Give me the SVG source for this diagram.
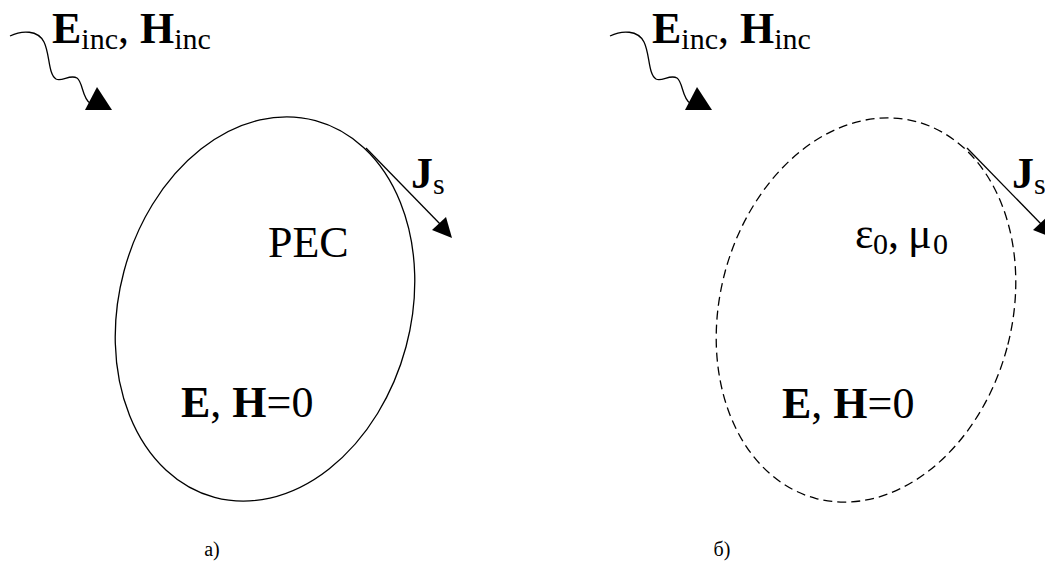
<svg xmlns="http://www.w3.org/2000/svg" width="1045" height="564" viewBox="0 0 1045 564">
<style>
text{font-family:'Liberation Serif','Times New Roman',Times,serif;fill:#000}
.b{font-weight:bold}
.big{font-size:44px}
.sub{font-size:30px}
.line{fill:none;stroke:#000;stroke-width:1.3}
.dash{fill:none;stroke:#000;stroke-width:1.3;stroke-dasharray:9 5}
.head{fill:#000;stroke:none}
.lab{font-size:20px}
</style>
<rect width="1045" height="564" fill="#fff"/>
<g id="body-a">
<ellipse class="line" cx="265" cy="309" rx="146" ry="195" transform="rotate(15 265 309)"/>
<text class="big" x="268" y="257">PEC</text>
<text class="big" x="181" y="417"><tspan class="b">E</tspan>, <tspan class="b">H</tspan>=0</text>
</g>
<g id="body-b">
<ellipse class="dash" cx="866" cy="310" rx="146" ry="195" transform="rotate(15 866 310)"/>
<text x="855" y="248" font-size="44">ε<tspan x="873" font-size="30" dy="6">0</tspan><tspan dy="-6">, </tspan><tspan x="908">μ</tspan><tspan x="933" font-size="30" dy="6">0</tspan></text>
<text class="big" x="782" y="418"><tspan class="b">E</tspan>, <tspan class="b">H</tspan>=0</text>
</g>
<g id="label-inc-a">
<text class="big" x="52" y="43"><tspan class="b">E</tspan><tspan class="sub" dy="6">inc</tspan><tspan dy="-6">, </tspan><tspan class="b">H</tspan><tspan class="sub" dy="6">inc</tspan></text>
</g>
<g id="label-inc-b">
<text class="big" x="652" y="43"><tspan class="b">E</tspan><tspan class="sub" dy="6">inc</tspan><tspan dy="-6">, </tspan><tspan class="b">H</tspan><tspan class="sub" dy="6">inc</tspan></text>
</g>
<g id="label-js-a">
<text class="big b" x="411" y="188">J<tspan class="sub" font-weight="normal" dy="6">s</tspan></text>
</g>
<g id="label-js-b">
<text class="big b" x="1012" y="188">J<tspan class="sub" font-weight="normal" dy="6">s</tspan></text>
</g>
<g id="caption-a"><text class="lab" x="212" y="556" text-anchor="middle">а)</text></g>
<g id="caption-b"><text class="lab" x="722" y="556" text-anchor="middle">б)</text></g>
<g id="connectors">
<path class="line" d="M10,36 C22,30 38,30 44,42 C50,54 48,74 56,79 C62,82 70,74 77,78 C83,82 82,98 90,103"/>
<polygon class="head" points="97,87 85,110 112,110"/>
<path class="line" d="M610,36 C622,30 638,30 644,42 C650,54 648,74 656,79 C662,82 670,74 677,78 C683,82 682,98 690,103"/>
<polygon class="head" points="697,87 685,110 712,110"/>
<line class="line" x1="366" y1="148" x2="442" y2="226"/>
<polygon class="head" points="452,238 432,230 446,217"/>
<line class="line" x1="967" y1="148" x2="1043" y2="226"/>
<polygon class="head" points="1053,238 1033,230 1047,217"/>
</g>
</svg>
